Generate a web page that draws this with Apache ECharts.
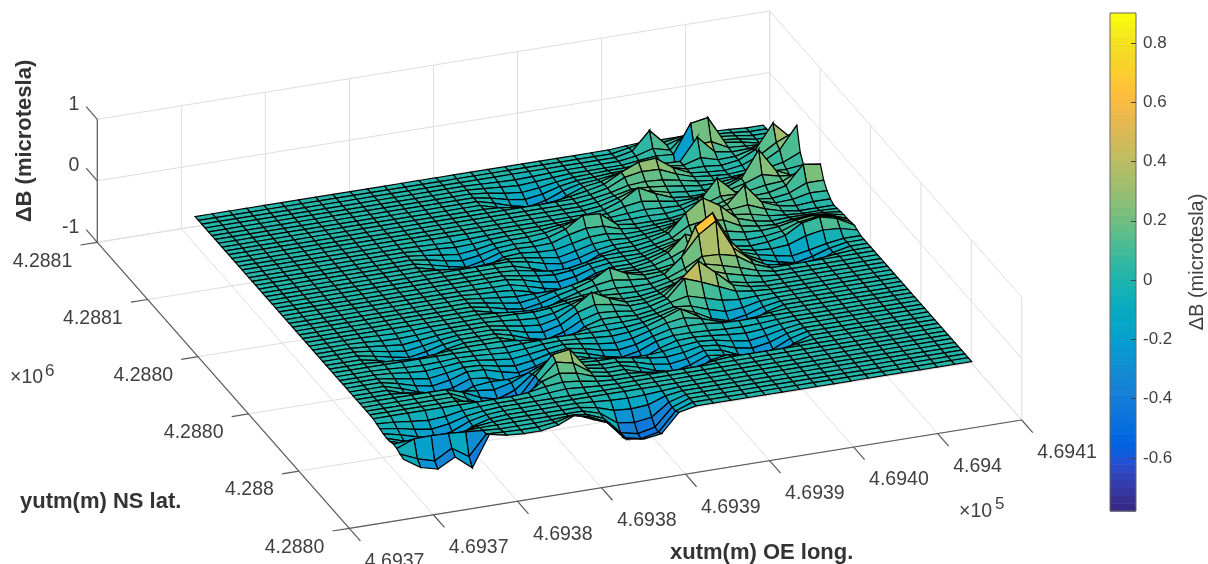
<!DOCTYPE html>
<html><head><meta charset="utf-8">
<style>html,body{margin:0;padding:0;background:#fff}#c{width:1208px;height:564px}</style>
<script src="https://cdn.jsdelivr.net/npm/echarts@6/dist/echarts.min.js"></script></head>
<body><div id="c"></div>
<script>
// ---------- axis ticks ----------
const xTicks=[469370,469375,469380,469385,469390,469395,469400,469405,469410];
const xTickLabels=['4.6937','4.6937','4.6938','4.6938','4.6939','4.6939','4.6940','4.694','4.6941'];
const yTicks=[4288100,4288075,4288050,4288025,4288000,4287975];
const yTickLabels=['4.2881','4.2881','4.2880','4.2880','4.288','4.2880'];
const zTicks=[-1,0,1];
const zTickLabels=['-1','0','1'];
const barTicks=[-0.6,-0.4,-0.2,0,0.2,0.4,0.6,0.8];
// ---------- survey grid ----------
const gridRows=63, gridCols=34;
const gridX0=469373.43, gridDX=1.0242;
const gridY0=4288080.1, gridDY=-1.6673;
// ---------- measured field: patches of the surface, top-left row/col then values ----------
const lobe01={r:3,c:16,z:[[-.01,-.02,-.03,-.02,-.01],[-.02,-.04,-.06,-.04,-.02],[-.03,-.08,-.11,-.08,-.03],[-.05,-.12,-.16,-.12,-.04],[-.07,-.16,-.22,-.16,-.05],[-.08,-.2,-.28,-.2,-.07],[-.02,-.06,-.08,-.06,-.02]]};
const lobe02={r:15,c:10,z:[[-.01,-.02,-.03,-.02,-.01],[-.02,-.03,-.05,-.04,-.01],[-.03,-.07,-.1,-.07,-.02],[-.04,-.1,-.14,-.1,-.03],[-.06,-.13,-.19,-.13,-.04],[-.07,-.17,-.24,-.17,-.05],[-.02,-.05,-.07,-.05,-.02]]};
const lobe03={r:23,c:14,z:[[-.01,-.02,-.03,-.02,-.01],[-.02,-.05,-.07,-.05,-.02],[-.04,-.09,-.12,-.09,-.03],[-.05,-.13,-.17,-.13,-.04],[-.07,-.17,-.23,-.17,-.06],[-.09,-.22,-.3,-.22,-.07],[-.03,-.07,-.09,-.07,-.02]]};
const lobe04={r:18,c:15,z:[[-.01,-.02,-.02,-.02,0],[-.02,-.03,-.05,-.03,-.01],[-.03,-.06,-.09,-.06,-.02],[-.04,-.09,-.13,-.09,-.03],[-.05,-.12,-.17,-.12,-.04],[-.07,-.16,-.22,-.16,-.05],[-.02,-.05,-.07,-.05,-.01]]};
const lobe05={r:26,c:27,z:[[-.01,-.02,-.03,-.02,-.01],[-.02,-.04,-.06,-.04,-.01],[-.03,-.07,-.1,-.07,-.03],[-.04,-.1,-.15,-.1,-.04],[-.06,-.14,-.2,-.14,-.05],[-.08,-.18,-.25,-.18,-.06],[-.02,-.05,-.08,-.05,-.02]]};
const lobe06={r:34,c:3,z:[[0,-.01,-.02,-.01,0],[-.01,-.03,-.04,-.03,-.01],[-.02,-.05,-.08,-.05,-.02],[-.03,-.08,-.12,-.08,-.03],[-.05,-.11,-.16,-.11,-.04],[-.06,-.14,-.2,-.14,-.05],[-.02,-.04,-.06,-.04,-.01]]};
const lobe07={r:34,c:11,z:[[-.01,-.02,-.03,-.02,-.01],[-.02,-.05,-.07,-.05,-.02],[-.04,-.09,-.12,-.09,-.03],[-.05,-.13,-.17,-.13,-.04],[-.07,-.17,-.23,-.17,-.06],[-.09,-.22,-.3,-.22,-.07],[-.03,-.07,-.09,-.07,-.02]]};
const lobe08={r:37,c:21,z:[[-.01,-.02,-.03,-.02,-.01],[-.02,-.04,-.06,-.04,-.02],[-.03,-.08,-.11,-.08,-.03],[-.05,-.12,-.16,-.12,-.04],[-.07,-.16,-.22,-.16,-.05],[-.08,-.2,-.28,-.2,-.07],[-.02,-.06,-.08,-.06,-.02]]};
const lobe09={r:42,c:3,z:[[-.01,-.03,-.04,-.03,-.01],[-.02,-.05,-.07,-.05,-.02],[-.04,-.09,-.13,-.09,-.04],[-.06,-.14,-.19,-.14,-.05],[-.08,-.18,-.25,-.18,-.06],[-.1,-.23,-.32,-.23,-.08],[-.03,-.07,-.1,-.07,-.02]]};
const lobe10={r:41,c:8,z:[[-.01,-.02,-.03,-.02,-.01],[-.02,-.04,-.06,-.04,-.01],[-.03,-.07,-.1,-.07,-.03],[-.05,-.11,-.15,-.11,-.04],[-.06,-.14,-.2,-.14,-.05],[-.08,-.19,-.26,-.19,-.06],[-.02,-.06,-.08,-.06,-.02]]};
const lobe11={r:41,c:14,z:[[-.01,-.02,-.03,-.02,-.01],[-.02,-.04,-.06,-.04,-.02],[-.03,-.08,-.11,-.08,-.03],[-.05,-.12,-.16,-.12,-.04],[-.07,-.16,-.22,-.16,-.05],[-.08,-.2,-.28,-.2,-.07],[-.02,-.06,-.08,-.06,-.02]]};
const lobe12={r:46,c:16,z:[[-.01,-.02,-.03,-.02,-.01],[-.02,-.05,-.07,-.05,-.02],[-.04,-.09,-.12,-.09,-.03],[-.05,-.13,-.17,-.13,-.04],[-.07,-.17,-.23,-.17,-.06],[-.09,-.22,-.3,-.22,-.07],[-.03,-.07,-.09,-.07,-.02]]};
const lobe13={r:45,c:21,z:[[-.01,-.03,-.04,-.03,-.01],[-.03,-.06,-.08,-.06,-.02],[-.04,-.1,-.14,-.1,-.04],[-.06,-.15,-.2,-.15,-.05],[-.08,-.2,-.27,-.2,-.07],[-.1,-.25,-.35,-.25,-.09],[-.03,-.08,-.11,-.08,-.03]]};
const lobe14={r:27,c:11,z:[[-.01,-.02,-.02,-.02,0],[-.02,-.03,-.05,-.03,-.01],[-.03,-.06,-.09,-.06,-.02],[-.04,-.09,-.13,-.09,-.03],[-.05,-.12,-.17,-.12,-.04],[-.07,-.16,-.22,-.16,-.05],[-.02,-.05,-.07,-.05,-.01]]};
const lobe15={r:46,c:6,z:[[-.02,-.04,-.05,-.04,-.01],[-.04,-.08,-.11,-.08,-.03],[-.07,-.15,-.2,-.15,-.06],[-.09,-.22,-.29,-.22,-.08],[-.12,-.3,-.4,-.3,-.1],[-.15,-.38,-.5,-.38,-.12],[-.05,-.12,-.16,-.12,-.03]]};
const dipFront={r:57,c:12,z:[[-.02,-.04,-.05,-.04,-.02],[-.05,-.14,-.16,-.14,-.04],[-.08,-.28,-.32,-.28,-.08],[-.1,-.38,-.44,-.38,-.1],[-.1,-.4,-.46,-.4,-.1],[-.06,-.36,-.4,-.36,-.06]]};
const dipCorner={r:54,c:0,z:[[-.02,-.04,-.07,-.1,-.08,-.03,-.01],[-.04,-.08,-.14,-.18,-.14,-.06,-.02],[-.06,-.12,-.2,-.26,-.2,-.08,-.02],[-.07,-.16,-.26,-.34,-.24,-.1,-.02],[-.06,-.14,-.28,-.36,-.12,-.04,-.01],[-.04,-.02,-.04,-.1,-.02,0,0],[-.05,.06,.07,.06,.04,.02,0],[-.08,-.2,-.28,-.12,-.3,.02,.01],[-.1,-.28,-.35,-.2,-.42,.08,.02]]};
const peakMain={r:27,c:20,z:[[0,.01,.02,.03,.06,.04,.02],[.01,.02,.04,.06,.2,.08,.03],[.02,.04,.06,.12,.45,.16,.05],[.03,.06,.1,.28,.62,.3,.08],[.04,.08,.14,.72,.9,.41,.1],[.04,.1,.33,.65,.83,.35,.12],[.03,.08,.18,.33,.34,.28,.1],[.02,.06,.1,.24,.2,.14,.06],[.01,.03,.06,.12,.1,.07,.03]]};
const peakB={r:19,c:22,z:[[0,.01,.03,.05,.04,.02,.01],[.01,.03,.06,.1,.08,.05,.02],[.02,.05,.12,.2,.16,.08,.03],[.03,.08,.26,.42,.3,.12,.04],[.04,.12,.4,.6,.42,.16,.05],[.04,.1,.26,.3,.26,.12,.05],[.03,.07,.14,.16,.14,.08,.03],[.01,.03,.06,.07,.06,.03,.01]]};
const peakC={r:33,c:19,z:[[0,.01,.02,.03,.03,.01,0],[.01,.03,.05,.08,.06,.03,.01],[.02,.05,.1,.2,.14,.06,.02],[.03,.08,.22,.42,.26,.09,.03],[.04,.1,.34,.6,.38,.12,.04],[.04,.12,.42,.34,.24,.1,.04],[.03,.1,.2,.18,.13,.07,.03],[.02,.05,.09,.09,.06,.04,.02],[0,.02,.03,.03,.03,.02,0]]};
const humpD={r:5,c:21,z:[[0,.01,.02,.02,.02,.01,0,0],[.01,.02,.04,.05,.05,.03,.01,0],[.02,.04,.08,.12,.12,.06,.02,.01],[.03,.07,.16,.24,.24,.12,.04,.01],[.03,.09,.24,.36,.38,.18,.05,.02],[.03,.09,.22,.27,.26,.14,.05,.02],[.03,.07,.13,.16,.15,.1,.04,.01],[.02,.05,.08,.1,.1,.07,.03,.01],[.01,.03,.05,.05,.05,.04,.02,0],[0,.01,.02,.02,.02,.01,0,0]]};
const peakE={r:14,c:25,z:[[0,.01,.03,.01,0],[.02,.05,.1,.05,.02],[.03,.1,.22,.1,.03],[.05,.14,.45,.16,.05],[.04,.12,.18,.12,.04],[.02,.06,.09,.06,.02],[.01,.02,.03,.02,.01]]};
const peakF={r:17,c:26,z:[[0,.01,.03,.01,0],[.02,.05,.1,.05,.02],[.03,.1,.22,.1,.03],[.05,.14,.45,.16,.05],[.04,.12,.2,.12,.04],[.02,.06,.1,.06,.02],[.01,.02,.03,.02,.01]]};
const peakG={r:11,c:28,z:[[0,.02,.04,.02,0],[.02,.06,.14,.06,.02],[.03,.12,.3,.12,.03],[.05,.18,.6,.2,.05],[.04,.14,.24,.14,.04],[.02,.07,.12,.07,.02],[.01,.02,.04,.02,.01]]};
const peakH={r:14,c:30,z:[[0,.02,.04,.04],[.02,.05,.12,.12],[.03,.1,.28,.26],[.05,.14,.45,.42],[.04,.1,.22,.22],[.02,.06,.12,.11],[.01,.02,.04,.04]]};
const peakI={r:7,c:31,z:[[0,.02,.05],[.03,.07,.16],[.05,.14,.36],[.07,.2,.6],[.05,.12,.24],[.02,.05,.1]]};
const peakJ={r:5,c:30,z:[[0,.02,.04,.02],[.02,.06,.14,.05],[.03,.12,.3,.1],[.05,.16,.5,.14],[.04,.1,.18,.08],[.02,.04,.06,.02]]};
const peakK={r:0,c:25,z:[[.02,.04,.03,.03,.04,.03,.02],[.05,.12,.05,.1,.1,.05,.03],[.06,.35,.07,.16,.18,.07,.04],[.04,.12,.05,.3,.3,.08,.05],[.03,.06,.04,.5,.55,.1,.06],[.02,.04,-.2,.2,.22,.08,.04],[.01,.03,.04,.4,.12,.05,.02],[0,.02,.03,.12,.05,.03,.01],[0,.01,.01,.04,.02,.01,0]]};
const shoulder={r:25,c:21,z:[[0,.03,.05,.03,0],[.02,.08,.14,.08,.02],[.03,.1,.24,.1,.02],[.04,.12,.35,.1,.02],[.02,.08,.14,.04,.01]]};
const humpM={r:15,c:17,z:[[0,.01,.02,.02,0],[.01,.04,.07,.05,.01],[.02,.08,.16,.1,.02],[.03,.12,.28,.26,.04],[.03,.1,.14,.12,.03],[.02,.05,.07,.06,.01],[0,.02,.03,.02,0]]};
const humpN={r:28,c:16,z:[[0,.01,.02,.01,0],[.01,.04,.07,.04,.01],[.02,.08,.16,.09,.02],[.03,.12,.28,.14,.03],[.03,.1,.14,.1,.03],[.02,.05,.07,.05,.01],[0,.02,.03,.02,0]]};
const humpO={r:11,c:21,z:[[0,.01,.02,.01,0],[.01,.04,.07,.04,.01],[.02,.08,.16,.09,.02],[.03,.12,.28,.14,.03],[.03,.1,.14,.1,.03],[.02,.05,.07,.05,.01],[0,.02,.03,.02,0]]};
const humpP={r:33,c:14,z:[[0,.01,.02,.01,0],[.01,.04,.07,.04,.01],[.02,.08,.16,.09,.02],[.03,.12,.28,.14,.03],[.03,.1,.14,.1,.03],[.02,.05,.07,.05,.01],[0,.02,.03,.02,0]]};
const humpQ={r:22,c:28,z:[[0,.01,.02,.02,.02,.01],[.01,.03,.05,.06,.05,.02],[.02,.05,.09,.11,.09,.03],[.03,.08,.14,.17,.13,.03],[.04,.1,.19,.22,.17,.04],[.04,.12,.26,.28,.2,.05],[.02,.07,.14,.15,.1,.03]]};
const peakR={r:47,c:9,z:[[0,.01,.03,.02,0],[.02,.05,.1,.07,.02],[.03,.1,.2,.14,.03],[.04,.16,.36,.4,.05],[.04,.16,.3,.24,.05],[.03,.12,.18,.14,.04],[.02,.07,.1,.07,.02],[.01,.03,.05,.03,.01]]};
const humpS={r:39,c:18,z:[[0,.01,.02,.01,0],[.01,.03,.06,.04,.01],[.02,.07,.13,.08,.02],[.03,.1,.2,.12,.03],[.03,.08,.12,.08,.03],[.01,.04,.05,.04,.01]]};
const tipFront={r:60,c:9,z:[[.01,.03,.01],[.03,.1,.03],[.05,.17,.05]]};
const patches=[lobe01,lobe02,lobe03,lobe04,lobe05,lobe06,lobe07,lobe08,lobe09,lobe10,lobe11,lobe12,lobe13,lobe14,lobe15,dipFront,dipCorner,peakMain,peakB,peakC,humpD,peakE,peakF,peakG,peakH,peakI,peakJ,peakK,shoulder,humpM,humpN,humpO,humpP,humpQ,peakR,humpS,tipFront];
// ---------- colormap ----------
const parula=[[.2081,.1663,.5292],[.2116,.1898,.5777],[.2123,.2138,.627],[.2081,.2386,.6771],[.1959,.2645,.7279],[.1707,.2919,.7792],[.1253,.3242,.8303],[.0591,.3598,.8683],[.0117,.3875,.882],[.006,.4086,.8828],[.0165,.4266,.8786],[.0329,.443,.872],[.0498,.4586,.8641],[.0629,.4737,.8554],[.0723,.4887,.8467],[.0779,.504,.8384],[.0793,.52,.8312],[.0749,.5375,.8263],[.0641,.557,.824],[.0488,.5772,.8228],[.0343,.5966,.8199],[.0265,.6137,.8135],[.0239,.6287,.8038],[.0231,.6418,.7913],[.0228,.6535,.7768],[.0267,.6642,.7607],[.0384,.6743,.7436],[.059,.6838,.7254],[.0843,.6928,.7062],[.1133,.7015,.6859],[.1453,.7098,.6646],[.1801,.7177,.6424],[.2178,.725,.6193],[.2586,.7317,.5954],[.3022,.7376,.5712],[.3482,.7424,.5473],[.3953,.7459,.5244],[.442,.7481,.5033],[.4871,.7491,.484],[.53,.7491,.4661],[.5709,.7485,.4494],[.6099,.7473,.4337],[.6473,.7456,.4188],[.6834,.7435,.4044],[.7184,.7411,.3905],[.7525,.7384,.3768],[.7858,.7356,.3633],[.8185,.7327,.3498],[.8507,.7299,.336],[.8824,.7274,.3217],[.9139,.7258,.3063],[.945,.7261,.2886],[.9739,.7314,.2666],[.9938,.7455,.2403],[.999,.7653,.2164],[.9955,.7861,.1967],[.988,.8066,.1794],[.9789,.8271,.1633],[.9697,.8481,.1475],[.9626,.8705,.1309],[.9589,.8949,.1132],[.9598,.9218,.0948],[.9661,.9514,.0755],[.9763,.9831,.0538]];
const cMin=-0.779,cMax=0.901;
function cmap(i){const p=parula[i];return 'rgb('+Math.round(p[0]*255)+','+Math.round(p[1]*255)+','+Math.round(p[2]*255)+')';}
function zColor(z){const t=(z-cMin)/(cMax-cMin);return cmap(Math.max(0,Math.min(63,Math.round(t*63))));}
// ---------- orthographic view of the data box ----------
const xLo=xTicks[0],xHi=xTicks[8],yHi=yTicks[0],yLo=yTicks[5];
function project(x,y,z){const b=(x-xLo)/(xHi-xLo),a=(yHi-y)/(yHi-yLo);
  return [97.3+252*a+672.4*b, 242.3+286*a-108.3*b-61.5*(z+1)];}
// ---------- surface ----------
const Z=[];
for(let r=0;r<gridRows;r++){Z.push(new Array(gridCols).fill(0.008));}
patches.forEach(p=>p.z.forEach((row,i)=>row.forEach((v,j)=>{if(p.r+i<gridRows&&p.c+j<gridCols)Z[p.r+i][p.c+j]+=v;})));
function gx(c){return gridX0+c*gridDX;} function gy(r){return gridY0+r*gridDY;}
const facets=[];
for(let r=0;r<gridRows-1;r++)for(let c=0;c<gridCols-1;c++){
  facets.push([r,c,project(gx(c+.5),gy(r+.5),0)[1]]);}
facets.sort((p,q)=>p[2]-q[2]);
function renderFacet(params,api){
  const r=api.value(0),c=api.value(1);
  const pts=[[r,c],[r,c+1],[r+1,c+1],[r+1,c]].map(v=>api.coord(project(gx(v[1]),gy(v[0]),Z[v[0]][v[1]])));
  return {type:'polygon',shape:{points:pts},silent:true,style:{fill:zColor(Z[r+1][c]),stroke:'#000',lineWidth:1.2}};
}
// ---------- box lines ----------
const GRID='#dedede',AXIS='#5a5a5a';
const segs=[];
function seg(p,q,col,w){segs.push([p,q,col,w]);}
xTicks.forEach(x=>{seg([x,yLo,-1],[x,yHi,-1],GRID,1);seg([x,yHi,-1],[x,yHi,1],GRID,1);});
yTicks.forEach(y=>{seg([xLo,y,-1],[xHi,y,-1],GRID,1);seg([xHi,y,-1],[xHi,y,1],GRID,1);});
zTicks.forEach(z=>{seg([xLo,yHi,z],[xHi,yHi,z],GRID,1);seg([xHi,yHi,z],[xHi,yLo,z],GRID,1);});
seg([xLo,yHi,-1],[xLo,yHi,1],AXIS,1.2);
seg([xLo,yHi,-1],[xLo,yLo,-1],AXIS,1.2);
seg([xLo,yLo,-1],[xHi,yLo,-1],AXIS,1.2);
xTicks.forEach(x=>seg([x,yLo,-1],[x,yLo-5.5,-1],AXIS,1.2));
yTicks.forEach(y=>seg([xLo,y,-1],[xLo-1,y,-1],AXIS,1.2));
zTicks.forEach(z=>seg([xLo,yHi,z],[xLo,yHi+5.5,z],AXIS,1.2));
function renderSeg(params,api){
  const s=segs[api.value(0)];
  const p=api.coord(project(...s[0])),q=api.coord(project(...s[1]));
  return {type:'line',shape:{x1:p[0],y1:p[1],x2:q[0],y2:q[1]},silent:true,style:{stroke:s[2],lineWidth:s[3]}};
}
// ---------- tick labels ----------
const LAB='#404040',FONT='"Liberation Sans",Arial,sans-serif';
const labels=[];
xTicks.forEach((x,i)=>labels.push([[x,yLo,-1],xTickLabels[i],15.5,33,'left']));
yTicks.forEach((y,i)=>labels.push([[xLo,y,-1],yTickLabels[i],-25,19,'right']));
zTicks.forEach((z,i)=>labels.push([[xLo,yHi,z],zTickLabels[i],-18,-15,'right']));
function renderLabel(params,api){
  const l=labels[api.value(0)];const p=api.coord(project(...l[0]));
  return {type:'text',silent:true,style:{x:p[0]+l[2],y:p[1]+l[3],text:l[1],fill:LAB,font:'19.5px '+FONT,align:l[4],verticalAlign:'middle'}};
}
// ---------- colour bar ----------
const barSteps=parula.map((p,i)=>i);
function renderBar(params,api){
  const i=api.value(0),st=(cMax-cMin)/64;
  const a=api.coord([0,cMin+i*st]),b=api.coord([1,cMin+(i+1)*st]);
  return {type:'rect',silent:true,shape:{x:a[0],y:b[1],width:b[0]-a[0],height:a[1]-b[1]+.6},style:{fill:cmap(i)}};
}
function renderBarFrame(params,api){
  const a=api.coord([0,cMin]),b=api.coord([1,cMax]);
  return {type:'rect',silent:true,z:5,shape:{x:a[0],y:b[1],width:b[0]-a[0],height:a[1]-b[1]},style:{fill:'none',stroke:'#666',lineWidth:1}};
}
const chart=echarts.init(document.getElementById('c'),null,{renderer:'canvas'});
chart.setOption({
  animation:false,backgroundColor:'#fff',
  grid:[{left:0,top:0,width:1208,height:564},{left:1110,top:13,width:28.5,height:498}],
  xAxis:[{type:'value',gridIndex:0,min:0,max:1208,show:false},{type:'value',gridIndex:1,min:0,max:1,show:false}],
  yAxis:[{type:'value',gridIndex:0,min:0,max:564,inverse:true,show:false},
    {type:'value',gridIndex:1,min:cMin,max:cMax,position:'right',z:6,splitLine:{show:false},
     axisLine:{show:false,onZero:false},
     axisTick:{show:true,inside:true,length:5,customValues:barTicks,lineStyle:{color:'#444',width:1}},
     axisLabel:{show:true,margin:7,customValues:barTicks,color:LAB,fontFamily:FONT,fontSize:17,formatter:v=>String(v)},
     name:'ΔB (microtesla)',nameLocation:'middle',nameRotate:90,nameGap:51,nameTextStyle:{color:LAB,fontFamily:FONT,fontSize:20}}],
  series:[
    {type:'custom',name:'box',xAxisIndex:0,yAxisIndex:0,clip:false,progressive:0,silent:true,data:segs.map((s,i)=>[i]),renderItem:renderSeg,encode:{x:-1,y:-1}},
    {type:'custom',name:'surface',xAxisIndex:0,yAxisIndex:0,clip:false,progressive:0,silent:true,data:facets,renderItem:renderFacet,encode:{x:-1,y:-1}},
    {type:'custom',name:'labels',xAxisIndex:0,yAxisIndex:0,clip:false,progressive:0,silent:true,data:labels.map((s,i)=>[i]),renderItem:renderLabel,encode:{x:-1,y:-1}},
    {type:'custom',name:'bar',xAxisIndex:1,yAxisIndex:1,clip:false,progressive:0,silent:true,data:barSteps.map(i=>[i]),renderItem:renderBar,encode:{x:-1,y:-1}},
    {type:'custom',name:'barFrame',xAxisIndex:1,yAxisIndex:1,clip:false,silent:true,data:[[0]],renderItem:renderBarFrame,encode:{x:-1,y:-1}}
  ],
  graphic:[
    {type:'text',silent:true,x:25,y:141,rotation:Math.PI/2,style:{text:'ΔB (microtesla)',fill:'#333',font:'bold 22px '+FONT,align:'center',verticalAlign:'middle'}},
    {type:'text',silent:true,x:20,y:502,style:{text:'yutm(m) NS lat.',fill:'#333',font:'bold 22px '+FONT,align:'left',verticalAlign:'middle'}},
    {type:'text',silent:true,x:670,y:553,style:{text:'xutm(m) OE long.',fill:'#333',font:'bold 22px '+FONT,align:'left',verticalAlign:'middle'}},
    {type:'text',silent:true,x:10,y:378,style:{text:'×10',fill:LAB,font:'19.5px '+FONT,align:'left',verticalAlign:'middle'}},
    {type:'text',silent:true,x:45,y:371,style:{text:'6',fill:LAB,font:'17px '+FONT,align:'left',verticalAlign:'middle'}},
    {type:'text',silent:true,x:959,y:512,style:{text:'×10',fill:LAB,font:'19.5px '+FONT,align:'left',verticalAlign:'middle'}},
    {type:'text',silent:true,x:995,y:504,style:{text:'5',fill:LAB,font:'17px '+FONT,align:'left',verticalAlign:'middle'}}
  ]
});
</script></body></html>
